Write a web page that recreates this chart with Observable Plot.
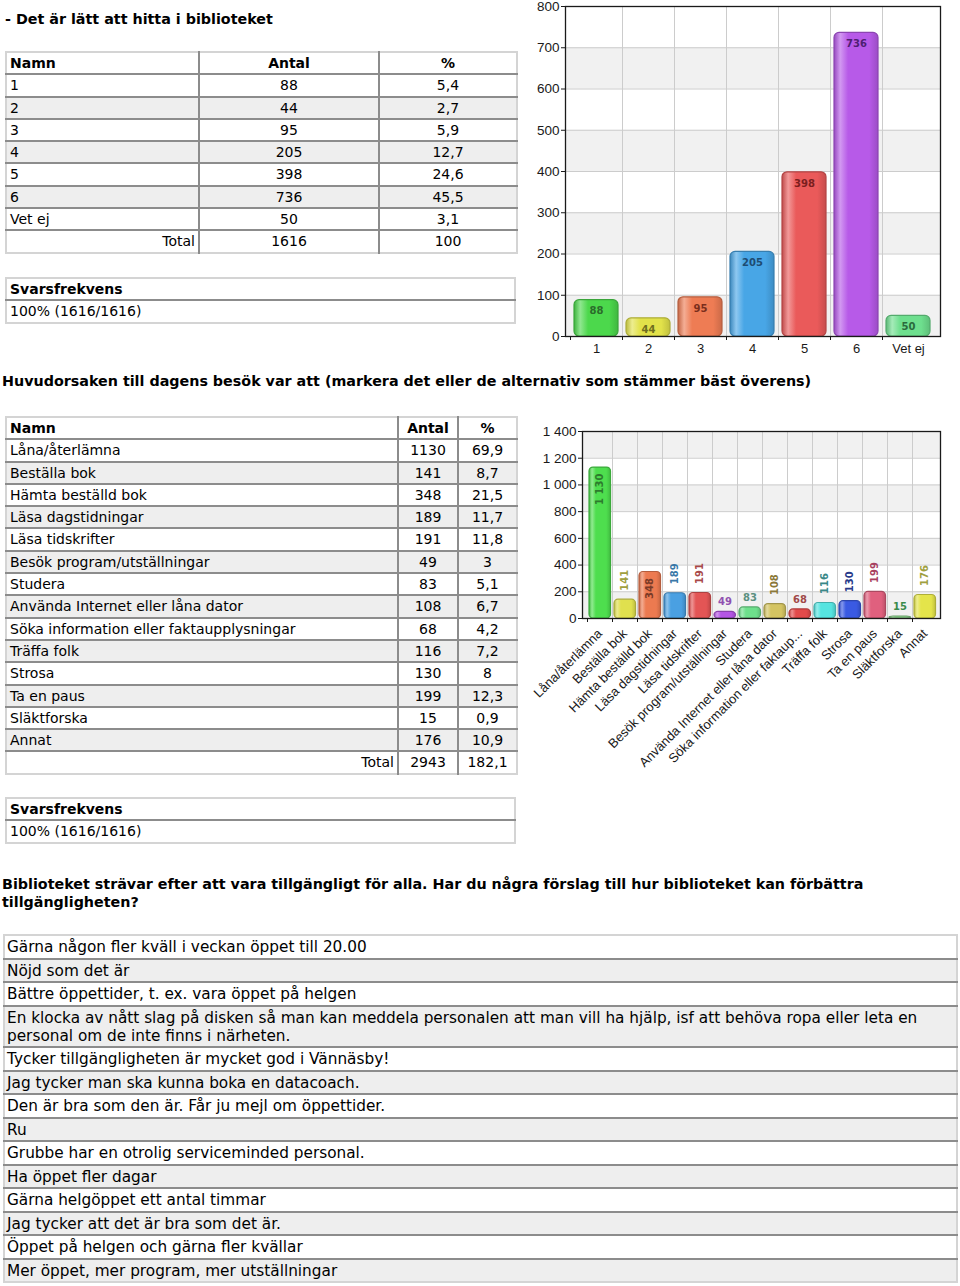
<!DOCTYPE html>
<html><head><meta charset="utf-8">
<script src="https://cdn.jsdelivr.net/npm/d3@7"></script>
<script src="https://cdn.jsdelivr.net/npm/@observablehq/plot@0.6"></script>
<style>
html,body{margin:0;padding:0;background:#fff}
body{width:960px;height:1286px;position:relative;overflow:hidden;font-family:"DejaVu Sans",Verdana,sans-serif;font-size:14px;color:#000}
.abs{position:absolute}
.h{font-weight:bold;font-size:14.3px;line-height:18px;white-space:nowrap}
table.t{border-collapse:collapse;border:2px solid #d4d4d4;table-layout:fixed}
table.t td{border-bottom:2px solid #8c8c8c;border-right:2px solid #8c8c8c;padding:0 3px;height:20.3px;line-height:20.3px;white-space:nowrap;overflow:hidden}
table.t tr td:last-child{border-right:none}
table.t tr:last-child td{border-bottom:none}
table.t tr.g td{background:#eeeeee}
table.t td.c{text-align:center}
table.t td.r{text-align:right}
table.t td.b{font-weight:bold}
table.w td{height:auto;font-size:15.3px;line-height:18px;padding:2px 2px 1.5px;white-space:normal}
</style></head>
<body>
<script>
// ---------- Question 1 ----------
const q1Title = "- Det är lätt att hitta i biblioteket";
const q1Names = ["1", "2", "3", "4", "5", "6", "Vet ej"];
const q1Counts = [88, 44, 95, 205, 398, 736, 50];
const q1Percents = ["5,4", "2,7", "5,9", "12,7", "24,6", "45,5", "3,1"];
const q1TotalCount = "1616";
const q1TotalPercent = "100";
const q1Response = "100% (1616/1616)";
const q1YTicks = [0, 100, 200, 300, 400, 500, 600, 700, 800];
const q1Colors = ["#4cd84c", "#e2e24a", "#ee7c54", "#48a6e6", "#ea5a5a", "#b75ae8", "#6edf8e"];
const q1LabelColors = ["#2b6b2b", "#6e6e1e", "#7a2e1c", "#1e4c72", "#7a1e1e", "#4e1f72", "#2a6a3c"];

// ---------- Question 2 ----------
const q2Title = "Huvudorsaken till dagens besök var att (markera det eller de alternativ som stämmer bäst överens)";
const q2Names = ["Låna/återlämna", "Beställa bok", "Hämta beställd bok", "Läsa dagstidningar", "Läsa tidskrifter",
  "Besök program/utställningar", "Studera", "Använda Internet eller låna dator", "Söka information eller faktaupplysningar",
  "Träffa folk", "Strosa", "Ta en paus", "Släktforska", "Annat"];
const q2AxisLabels = ["Låna/återlämna", "Beställa bok", "Hämta beställd bok", "Läsa dagstidningar", "Läsa tidskrifter",
  "Besök program/utställningar", "Studera", "Använda Internet eller låna dator", "Söka information eller faktaup...",
  "Träffa folk", "Strosa", "Ta en paus", "Släktforska", "Annat"];
const q2Counts = [1130, 141, 348, 189, 191, 49, 83, 108, 68, 116, 130, 199, 15, 176];
const q2Percents = ["69,9", "8,7", "21,5", "11,7", "11,8", "3", "5,1", "6,7", "4,2", "7,2", "8", "12,3", "0,9", "10,9"];
const q2TotalCount = "2943";
const q2TotalPercent = "182,1";
const q2Response = "100% (1616/1616)";
const q2YTicks = [0, 200, 400, 600, 800, 1000, 1200, 1400];
const q2Colors = ["#4ede4e", "#e0e04e", "#ec7a50", "#4aa0e2", "#e35555", "#b455e4", "#6ee08c", "#d4c462",
  "#e24a4a", "#56e4e0", "#3a5ae2", "#e0607e", "#88d088", "#e4e44a"];
const q2LabelColors = ["#2d7a2d", "#a0a040", "#7a3a28", "#3a78a8", "#a84848", "#9050b0", "#5a9080", "#8a7838",
  "#a04848", "#3a8888", "#283a8a", "#a84060", "#3a8a4a", "#a0a040"];

// ---------- Question 3 ----------
const q3TitleLines = ["Biblioteket strävar efter att vara tillgängligt för alla. Har du några förslag till hur biblioteket kan förbättra", "tillgängligheten?"];
const q3Answers = [
  "Gärna någon fler kväll i veckan öppet till 20.00",
  "Nöjd som det är",
  "Bättre öppettider, t. ex. vara öppet på helgen",
  "En klocka av nått slag på disken så man kan meddela personalen att man vill ha hjälp, isf att behöva ropa eller leta en personal om de inte finns i närheten.",
  "Tycker tillgängligheten är mycket god i Vännäsby!",
  "Jag tycker man ska kunna boka en datacoach.",
  "Den är bra som den är. Får ju mejl om öppettider.",
  "Ru",
  "Grubbe har en otrolig serviceminded personal.",
  "Ha öppet fler dagar",
  "Gärna helgöppet ett antal timmar",
  "Jag tycker att det är bra som det är.",
  "Öppet på helgen och gärna fler kvällar",
  "Mer öppet, mer program, mer utställningar"
];

// ---------- helpers ----------
const esc = s => String(s).replace(/&/g, "&amp;").replace(/</g, "&lt;");
function place(html, left, top) {
  const d = document.createElement("div");
  d.className = "abs";
  d.style.left = left + "px"; d.style.top = top + "px";
  d.innerHTML = html;
  document.body.appendChild(d);
  return d;
}
function freqTable(names, counts, pcts, total, totalPct, widths) {
  let h = `<table class="t" style="width:${widths.reduce((a, b) => a + b)}px"><colgroup>${widths.map(w => `<col style="width:${w}px">`).join("")}</colgroup>`;
  h += `<tr><td class="b">Namn</td><td class="b c">Antal</td><td class="b c">%</td></tr>`;
  names.forEach((n, i) => { h += `<tr class="${i % 2 ? "g" : ""}"><td>${esc(n)}</td><td class="c">${counts[i]}</td><td class="c">${pcts[i]}</td></tr>`; });
  h += `<tr><td class="r">Total</td><td class="c">${total}</td><td class="c">${totalPct}</td></tr></table>`;
  return h;
}
function respTable(value) {
  return `<table class="t" style="width:511px"><tr><td class="b">Svarsfrekvens</td></tr><tr><td>${value}</td></tr></table>`;
}
const fmt = d => d3.format(",")(d).replace(/,/g, " ");

function drawBars(o, bw) {
  const rows = o.names.map((name, i) => ({
    name, count: o.counts[i], text: fmt(o.counts[i]),
    grad: `url(#${o.id}g${i})`,
    edge: d3.color(o.colors[i]).darker(0.75).formatHex(),
    ink: o.labelColors[i]
  }));
  const bands = [];
  for (let i = 0; i + 1 < o.yTicks.length; i += 2) bands.push({lo: o.yTicks[i], hi: o.yTicks[i + 1]});
  const base = {x: "name", y: "count", text: "text", fill: "ink", fontFamily: "DejaVu Sans, Verdana, sans-serif", fontWeight: "bold", fontSize: 10};
  return Plot.plot({
    width: o.width, height: o.height,
    marginLeft: o.ml, marginRight: o.mr, marginTop: o.mt, marginBottom: o.mb,
    style: {fontFamily: "'Liberation Sans', Arial, sans-serif", fontSize: "13px", background: "none", color: "#1a1a1a", overflow: "visible"},
    x: {domain: o.names, padding: 0, insetLeft: o.insetL, insetRight: o.insetR, label: null},
    y: {domain: [0, o.yTicks[o.yTicks.length - 1]], label: null},
    marks: [
      Plot.rect(bands, {y1: "lo", y2: "hi", fill: "#f1f1f1"}),
      Plot.gridY(o.yTicks, {stroke: "#cccccc", strokeOpacity: 1}),
      Plot.gridX(o.names.slice(1), {dx: -bw / 2, stroke: "#cccccc", strokeOpacity: 1}),
      Plot.barY(rows, {x: "name", y: "count", fill: "grad", stroke: "edge", strokeWidth: 1.2, rx: o.rx, ry: o.rx, insetLeft: o.barL, insetRight: o.barR}),
      ...o.labels(rows, base),
      Plot.frame({stroke: "#1a1a1a", strokeWidth: 1.3}),
      Plot.axisY(o.yTicks, {tickSize: 4, tickPadding: 2, tickFormat: fmt, fontSize: 13.5}),
      Plot.axisX(o.names, {tickSize: 4, tickFormat: () => "", dx: -bw / 2}),
      Plot.axisX({tickSize: 0, tickPadding: o.xPad, tickRotate: o.rotate, dx: o.xdx, tickFormat: o.xFormat, fontSize: 13})
    ]
  });
}
function addGradients(svg, id, colors) {
  const defs = d3.select(svg).insert("defs", ":first-child");
  colors.forEach((c, i) => {
    const g = defs.append("linearGradient").attr("id", `${id}g${i}`).attr("x1", 0).attr("x2", 1).attr("y1", 0).attr("y2", 0);
    const stops = [[0, d3.color(c).darker(0.55)], [0.14, d3.interpolateRgb(c, "#ffffff")(0.38)], [0.32, d3.color(c)], [0.8, d3.color(c)], [1, d3.color(c).darker(0.45)]];
    stops.forEach(([o, col]) => g.append("stop").attr("offset", o).attr("stop-color", d3.color(col).formatHex()));
  });
}
function chart(o, left, top) {
  const first = drawBars(o, 0);
  const bw = first.scale("x").bandwidth;
  const svg = drawBars(o, bw);
  addGradients(svg, o.id, o.colors);
  const d = place("", left, top);
  d.appendChild(svg);
}

// ---------- page ----------
place(`<div class="h">${esc(q1Title)}</div>`, 5, 10);
place(freqTable(q1Names, q1Counts, q1Percents, q1TotalCount, q1TotalPercent, [193, 180, 138]), 5, 51);
place(respTable(q1Response), 5, 277);
chart({
  id: "a", names: q1Names, counts: q1Counts, colors: q1Colors, labelColors: q1LabelColors, yTicks: q1YTicks,
  width: 430, height: 360, ml: 35, mr: 20, mt: 6, mb: 24, insetL: 3, insetR: 5, barL: 4, barR: 4, rx: 5,
  xPad: 7, rotate: 0, xdx: 0, xFormat: d => d,
  labels: (rows, base) => [Plot.text(rows, {...base, dy: 11})]
}, 530, 0);

place(`<div class="h">${esc(q2Title)}</div>`, 2, 372);
place(freqTable(q2Names, q2Counts, q2Percents, q2TotalCount, q2TotalPercent, [392, 60, 59]), 5, 416);
place(respTable(q2Response), 5, 797);
chart({
  id: "b", names: q2Names, counts: q2Counts, colors: q2Colors, labelColors: q2LabelColors, yTicks: q2YTicks,
  width: 430, height: 360, ml: 52, mr: 20, mt: 11, mb: 162, insetL: 3, insetR: 1, barL: 2, barR: 1.5, rx: 4,
  xPad: 13, rotate: -45, xdx: 0, xFormat: d => q2AxisLabels[q2Names.indexOf(d)],
  labels: (rows, base) => [
    Plot.text(rows.filter(d => d.text.length < 3), {...base, dy: -10}),
    Plot.text(rows.filter(d => d.text.length >= 3 && d.count <= 300), {...base, rotate: -90, textAnchor: "start", dy: -9}),
    Plot.text(rows.filter(d => d.text.length >= 3 && d.count > 300), {...base, rotate: -90, textAnchor: "end", dy: 6})
  ]
}, 530, 420);

place(`<div class="h">${q3TitleLines.map(esc).join("<br>")}</div>`, 2, 875);
place(`<table class="t w" style="width:955px">${q3Answers.map((a, i) => `<tr class="${i % 2 ? "g" : ""}"><td>${esc(a)}</td></tr>`).join("")}</table>`, 3, 934);
</script>
</body></html>
